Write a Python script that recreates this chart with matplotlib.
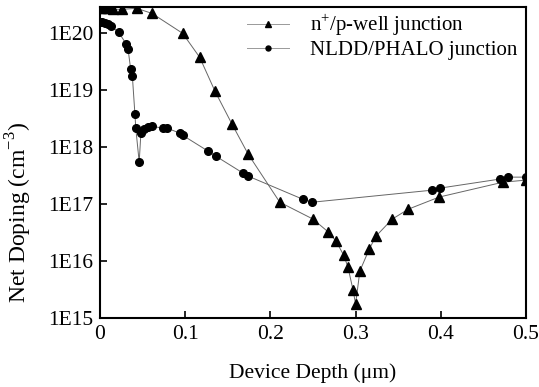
import matplotlib
matplotlib.use("Agg")
import matplotlib.pyplot as plt

# n+/p-well junction (triangles)
tri_x = [0.001, 0.005, 0.009, 0.015, 0.026, 0.043, 0.061, 0.097, 0.117, 0.135,
         0.155, 0.174, 0.211, 0.250, 0.268, 0.277, 0.286, 0.291, 0.297, 0.300,
         0.305, 0.316, 0.324, 0.343, 0.362, 0.398, 0.473, 0.500]
tri_y = [2.75e20, 2.75e20, 2.75e20, 2.64e20, 2.64e20, 2.75e20, 2.24e20, 1.0e20, 3.79e19, 9.6e18,
         2.53e18, 7.5e17, 1.08e17, 5.46e16, 3.23e16, 2.24e16, 1.27e16, 7.85e15, 3.1e15, 1.76e15,
         6.68e15, 1.62e16, 2.75e16, 5.46e16, 8.17e16, 1.33e17, 2.43e17, 2.64e17]

# NLDD/PHALO junction (circles)
cir_x = [0.000, 0.002, 0.006, 0.009, 0.013, 0.022, 0.031, 0.033, 0.036, 0.038,
         0.041, 0.042, 0.046, 0.048, 0.052, 0.056, 0.061, 0.074, 0.079, 0.094,
         0.097, 0.127, 0.136, 0.168, 0.174, 0.238, 0.249, 0.390, 0.399, 0.469,
         0.479, 0.500]
cir_y = [1.56e20, 1.56e20, 1.50e20, 1.44e20, 1.33e20, 1.04e20, 6.4e19, 5.2e19, 2.34e19, 1.76e19,
         3.79e18, 2.15e18, 5.5e17, 1.76e18, 2.07e18, 2.24e18, 2.34e18, 2.15e18, 2.15e18, 1.76e18,
         1.62e18, 8.5e17, 6.95e17, 3.5e17, 3.1e17, 1.22e17, 1.08e17, 1.76e17, 1.91e17, 2.75e17,
         2.98e17, 2.98e17]

x_ticks = [0, 0.1, 0.2, 0.3, 0.4, 0.5]
x_labels = ["0", "0.1", "0.2", "0.3", "0.4", "0.5"]
y_ticks = [1e15, 1e16, 1e17, 1e18, 1e19, 1e20]
y_labels = ["1E15", "1E16", "1E17", "1E18", "1E19", "1E20"]

plt.rcParams['font.family'] = ['Liberation Serif', 'DejaVu Serif']
plt.rcParams['mathtext.fontset'] = 'custom'
plt.rcParams['mathtext.rm'] = 'Liberation Serif'

fig = plt.figure(figsize=(5.39, 3.87), dpi=100)
ax = fig.add_axes([100/539, 1-318/387, 426/539, 311/387])

ax.plot(tri_x, tri_y, color='#666666', lw=0.7, marker='^', ms=7,
        mfc='black', mec='black', label='n$^{+}$/p-well junction')
ax.plot(cir_x, cir_y, color='#666666', lw=0.7, marker='o', ms=5.5,
        mfc='black', mec='black', label='NLDD/PHALO junction')

ax.set_yscale('log')
ax.set_xlim(0, 0.5)
ax.set_ylim(1e15, 2.9e20)
ax.set_xticks(x_ticks)
ax.set_xticklabels(x_labels)
ax.set_yticks(y_ticks)
ax.set_yticklabels(y_labels)
ax.minorticks_off()
ax.tick_params(direction='in', length=5, width=1.2, labelsize=15.5, pad=5)
for s in ax.spines.values():
    s.set_linewidth(1.5)

ax.set_xlabel('Device Depth (μm)', fontsize=15.5, labelpad=14)
ax.set_ylabel('Net Doping (cm$^{-3}$)', fontsize=17)
ax.yaxis.set_label_coords(-0.155, 0.34)

leg = ax.legend(loc='upper left', bbox_to_anchor=(0.30, 1.045), frameon=False,
                fontsize=15, handlelength=2.05, handletextpad=1.0,
                labelspacing=0.1, markerscale=0.65)
for h in leg.legend_handles:
    h.set_color('#999999')
    h.set_markerfacecolor('black')
    h.set_markeredgecolor('black')

fig.savefig('out.png', dpi=100)
